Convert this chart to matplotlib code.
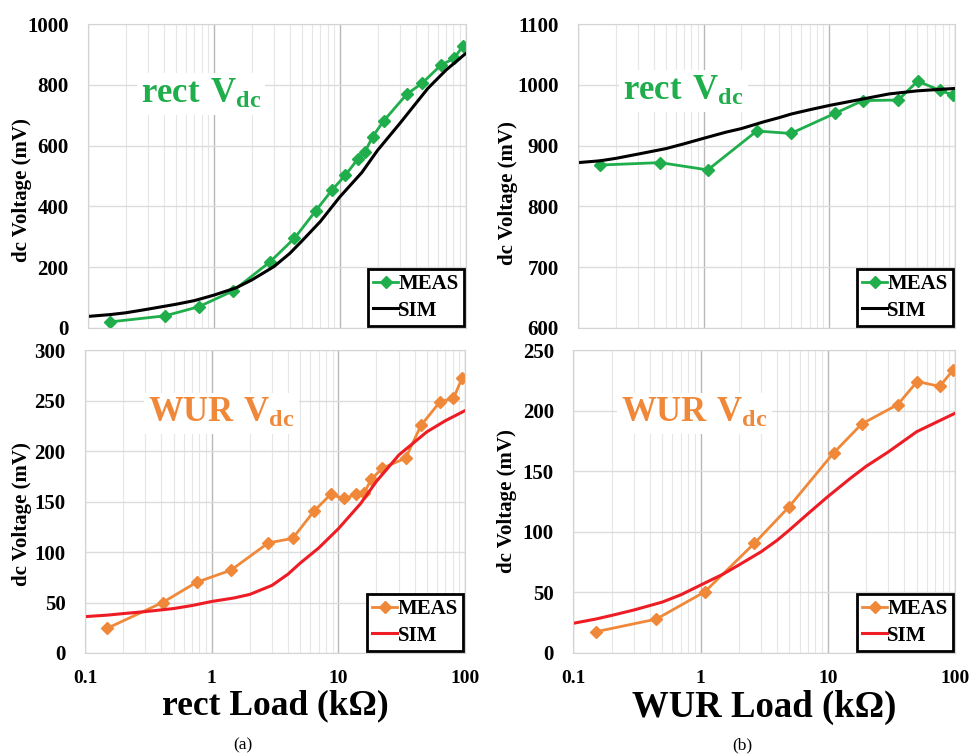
import numpy as np
import matplotlib
matplotlib.use('Agg')
import matplotlib.pyplot as plt
from matplotlib.ticker import LogLocator, FixedLocator, NullFormatter

plt.rcParams['font.family'] = ['Liberation Serif', 'DejaVu Serif']
plt.rcParams['mathtext.fontset'] = 'custom'
plt.rcParams['mathtext.bf'] = 'Liberation Serif:bold'
plt.rcParams['mathtext.rm'] = 'Liberation Serif'

# ---- data ----
# (a) rect load sweep
rectLoad = [0.15, 0.41, 0.76, 1.42, 2.8, 4.36, 6.43, 8.68, 11.1, 13.9, 15.9,
            18.2, 22.3, 34.0, 45.0, 63.7, 81.0, 95.0]
rectMeasRect = [20, 40, 70, 122, 218, 295, 385, 454, 503, 556, 580,
                629, 681, 769, 805, 865, 887, 928]
rectMeasWur = [24.5, 50, 70, 82, 109, 113.5, 140.5, 157, 153, 157, 158,
               172, 183, 193, 225.5, 249, 252, 272.5]

simLoad = [0.1, 0.15, 0.2, 0.3, 0.5, 0.7, 1, 1.5, 2, 3, 4, 5, 7, 10, 15, 20,
           30, 50, 70, 100]
rectSimRect = [38, 44, 50, 62, 78, 90, 108, 132, 158, 202, 245, 286, 350, 431,
               512, 585, 673, 788, 849, 903]
rectSimWur = [36, 37.5, 39, 41, 44, 47, 51, 54.5, 58, 67, 78, 89, 104, 123,
              148, 170, 196, 219, 230, 240]

# (b) WUR load sweep
wurLoad = [0.15, 0.45, 1.08, 2.65, 4.95, 11.1, 18.5, 35.5, 50.5, 76.0, 96.5]
wurMeasRect = [868, 872, 860, 924, 920, 953, 974, 975, 1006, 991, 983]
wurMeasWur = [17.5, 28, 50.5, 90.5, 120.5, 165, 189, 205, 224, 220, 233.5]

wurSimRect = [872, 875, 879, 886, 895, 903, 912, 922, 928, 939, 946, 952, 959,
              966, 973, 978, 985, 990, 992, 994]
wurSimWur = [24.5, 28, 31, 35.5, 42, 48, 56, 65, 72.6, 83.6, 93, 101.5, 115,
             129, 144, 154, 166, 182.6, 190, 197.8]

green = '#1fae4b'
orange = '#f0883a'
red = '#ee1c24'

fig = plt.figure(figsize=(9.71, 7.55), dpi=100)

def makeAx(rect, ylim, yticks, showX, labelPos):
    ax = fig.add_axes(rect)
    ax.set_xscale('log')
    ax.set_xlim(0.1, 100)
    ax.set_ylim(*ylim)
    ax.yaxis.set_major_locator(FixedLocator(yticks))
    ax.xaxis.set_major_locator(FixedLocator([0.1, 1, 10, 100]))
    ax.xaxis.set_minor_locator(LogLocator(base=10, subs=np.arange(2, 10)))
    ax.xaxis.set_minor_formatter(NullFormatter())
    ax.grid(True, which='major', axis='y', color='#dcdcdc', lw=1.0)
    ax.grid(True, which='major', axis='x', color='#b8b8b8', lw=1.0)
    ax.grid(True, which='minor', axis='x', color='#e6e6e6', lw=0.8)
    for s in ax.spines.values():
        s.set_color('#d4d4d4')
    ax.tick_params(which='both', length=0)
    ax.tick_params(axis='y', pad=14)
    ax.tick_params(axis='x', pad=12)
    for lab in ax.get_yticklabels():
        lab.set_fontsize(15)
        lab.set_fontweight('bold')
    if showX:
        ax.set_xticklabels(['0.1', '1', '10', '100'], fontsize=14, fontweight='bold')
    else:
        ax.set_xticklabels([])
    ax.set_ylabel('dc Voltage (mV)', fontsize=15, fontweight='bold')
    ax.yaxis.set_label_coords(*labelPos)
    ax.set_axisbelow(True)
    return ax

def addLabel(ax, txt, color, x, y):
    ax.text(x, y, r'$\mathbf{' + txt + r'\ V_{dc}}$', transform=ax.transAxes,
            fontsize=25, color=color, ha='left', va='center',
            bbox=dict(facecolor='white', edgecolor='none', pad=3))

def addLegend(ax):
    leg = ax.legend(loc='lower right', handlelength=1.2,
                    handletextpad=0.0, borderpad=0.25, labelspacing=0.3,
                    fancybox=False, framealpha=1, borderaxespad=0.1,
                    prop={'weight': 'bold', 'size': 15})
    leg.get_frame().set_edgecolor('black')
    leg.get_frame().set_linewidth(2)

# top-left
ax1 = makeAx([0.0906, 0.5656, 0.389, 0.4026], (0, 1000), [0, 200, 400, 600, 800, 1000],
             False, (-0.148, 0.455))
ax1.plot(rectLoad, rectMeasRect, color=green, lw=2, marker='D', ms=6, label='MEAS')
ax1.plot(simLoad, rectSimRect, color='black', lw=2.2, label='SIM')
addLabel(ax1, 'rect', green, 0.14, 0.77)
addLegend(ax1)

# top-right
ax2 = makeAx([0.5953, 0.5656, 0.388, 0.4026], (600, 1100), [600, 700, 800, 900, 1000, 1100],
             False, (-0.159, 0.445))
ax2.plot(wurLoad, wurMeasRect, color=green, lw=2, marker='D', ms=6, label='MEAS')
ax2.plot(simLoad, wurSimRect, color='black', lw=2.2, label='SIM')
addLabel(ax2, 'rect', green, 0.12, 0.78)
addLegend(ax2)

# bottom-left
ax3 = makeAx([0.0875, 0.1351, 0.3914, 0.4013], (0, 300), [0, 50, 100, 150, 200, 250, 300],
             True, (-0.139, 0.46))
ax3.plot(rectLoad, rectMeasWur, color=orange, lw=2, marker='D', ms=6, label='MEAS')
ax3.plot(simLoad, rectSimWur, color=red, lw=2.2, label='SIM')
addLabel(ax3, 'WUR', orange, 0.165, 0.79)
addLegend(ax3)
ax3.set_xlabel('rect Load (k\u03a9)', fontsize=25.5, fontweight='bold', labelpad=2)

# bottom-right
ax4 = makeAx([0.5904, 0.1351, 0.3931, 0.4013], (0, 250), [0, 50, 100, 150, 200, 250],
             True, (-0.147, 0.50))
ax4.plot(wurLoad, wurMeasWur, color=orange, lw=2, marker='D', ms=6, label='MEAS')
ax4.plot(simLoad, wurSimWur, color=red, lw=2.2, label='SIM')
addLabel(ax4, 'WUR', orange, 0.125, 0.79)
addLegend(ax4)
ax4.set_xlabel('WUR Load (k\u03a9)', fontsize=26.5, fontweight='bold', labelpad=2)

fig.text(0.250, 0.002, '(a)', fontsize=12.5, ha='center', va='bottom')
fig.text(0.764, 0.002, '(b)', fontsize=12.5, ha='center', va='bottom')

fig.savefig('out.png', dpi=100, facecolor='white')
